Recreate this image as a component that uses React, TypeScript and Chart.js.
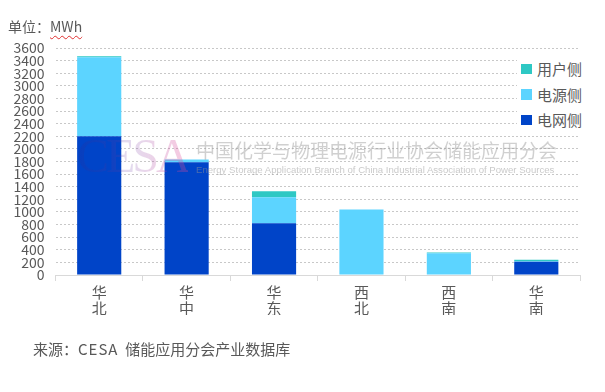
import React, { useEffect, useRef } from 'react';
import { Chart, registerables } from 'chart.js';

Chart.register(...registerables);

const categories = [['华', '北'], ['华', '中'], ['华', '东'], ['西', '北'], ['西', '南'], ['华', '南']];
const seriesNames = ['电网侧', '电源侧', '用户侧'];
const gridSide = [2200, 1790, 820, 0, 0, 210];
const sourceSide = [1255, 40, 415, 1040, 345, 10];
const userSide = [15, 0, 95, 0, 10, 20];
const seriesColors = ['#0044C8', '#5CD4FF', '#2EC8C4'];
const yMax = 3600;
const yStep = 200;

const FONT = "'Noto Sans CJK SC', 'Microsoft YaHei', sans-serif";
const TEXT = '#595959';

export default function App() {
  const canvasRef = useRef<HTMLCanvasElement | null>(null);

  useEffect(() => {
    const ctx = canvasRef.current;
    if (!ctx) return;
    const values = [gridSide, sourceSide, userSide];
    const chart = new Chart(ctx, {
      type: 'bar',
      data: {
        labels: categories as any,
        datasets: seriesNames.map((name, i) => ({
          label: name,
          data: values[i],
          backgroundColor: seriesColors[i],
          borderWidth: 0,
          categoryPercentage: 1,
          barPercentage: 0.505,
        })),
      },
      options: {
        animation: false,
        responsive: false,
        maintainAspectRatio: false,
        layout: { padding: { left: 0, right: 25, top: 48, bottom: 77 } },
        plugins: {
          legend: { display: false },
          tooltip: { enabled: false },
          title: { display: false },
        },
        scales: {
          x: {
            stacked: true,
            offset: true,
            border: { display: true, color: '#d9d9d9', width: 1 },
            grid: {
              display: true,
              drawOnChartArea: false,
              drawTicks: true,
              tickLength: 6,
              color: '#d9d9d9',
              offset: true,
            },
            ticks: {
              color: TEXT,
              font: { family: FONT, size: 15, lineHeight: 1.07 },
              padding: 3,
              maxRotation: 0,
              autoSkip: false,
            },
            afterFit: (scale: any) => {
              scale.height = 40;
            },
          },
          y: {
            stacked: true,
            min: 0,
            max: yMax,
            border: { display: false, dash: [2, 2] },
            grid: {
              color: '#c8c8c8',
              lineWidth: 1,
              drawTicks: false,
              borderDash: [2, 2],
            },
            ticks: {
              stepSize: yStep,
              autoSkip: false,
              color: TEXT,
              font: { family: FONT, size: 14 },
              padding: 11,
              callback: (v: any) => String(v),
            },
            afterFit: (scale: any) => {
              scale.width = 55.5;
            },
          },
        },
      } as any,
    });
    return () => chart.destroy();
  }, []);

  return (
    <div style={{ position: 'absolute', left: 0, top: 0, width: 605, height: 392, background: '#fff', overflow: 'hidden', fontFamily: FONT }}>
      <canvas ref={canvasRef} width={605} height={392} style={{ position: 'absolute', left: 0, top: 0, width: 605, height: 392 }} />
      {/* unit label */}
      <div style={{ position: 'absolute', left: 8, top: 17, fontSize: 14, color: TEXT, whiteSpace: 'pre', lineHeight: '18px' }}>
        单位：<span style={{ textDecoration: 'underline wavy #e03030', textDecorationThickness: '1px', textUnderlineOffset: '3px' }}>MWh</span>
      </div>
      {/* watermark */}
      <div style={{ position: 'absolute', left: 77, top: 128, fontFamily: "'Liberation Serif', 'DejaVu Serif', serif", fontSize: 48, lineHeight: '56px', letterSpacing: -3, background: 'linear-gradient(90deg, rgba(40,40,140,0.18), rgba(120,70,170,0.2) 50%, rgba(230,70,150,0.3))', WebkitBackgroundClip: 'text', backgroundClip: 'text', color: 'transparent', pointerEvents: 'none' } as any}>
        CESA
      </div>
      <div style={{ position: 'absolute', left: 196, top: 140, fontSize: 19, lineHeight: '20px', color: 'rgba(150,150,150,0.45)', whiteSpace: 'nowrap', pointerEvents: 'none' }}>
        中国化学与物理电源行业协会储能应用分会
      </div>
      <div style={{ position: 'absolute', left: 196, top: 164, fontFamily: "'Liberation Sans', Arial, sans-serif", fontSize: 9.6, lineHeight: '11px', color: 'rgba(150,150,150,0.5)', whiteSpace: 'nowrap', pointerEvents: 'none' }}>
        Energy Storage Application Branch of China Industrial Association of Power Sources
      </div>
      {/* legend */}
      <div style={{ position: 'absolute', left: 517, top: 57, width: 72, height: 76, background: '#fff' }}>
        {[2, 1, 0].map((idx, row) => (
          <div key={idx} style={{ position: 'absolute', left: 0, top: row * 25.5, height: 24, width: 72 }}>
            <div style={{ position: 'absolute', left: 4, top: 6.5, width: 10.5, height: 10.5, background: seriesColors[idx] }} />
            <div style={{ position: 'absolute', left: 20, top: 2, fontSize: 15, lineHeight: '20px', color: TEXT, whiteSpace: 'nowrap' }}>{seriesNames[idx]}</div>
          </div>
        ))}
      </div>
      {/* source */}
      <div style={{ position: 'absolute', left: 33, top: 339, fontSize: 15, lineHeight: '20px', color: TEXT, whiteSpace: 'pre' }}>
        来源：<span style={{ letterSpacing: 1 }}>CESA</span>  储能应用分会产业数据库
      </div>
    </div>
  );
}
